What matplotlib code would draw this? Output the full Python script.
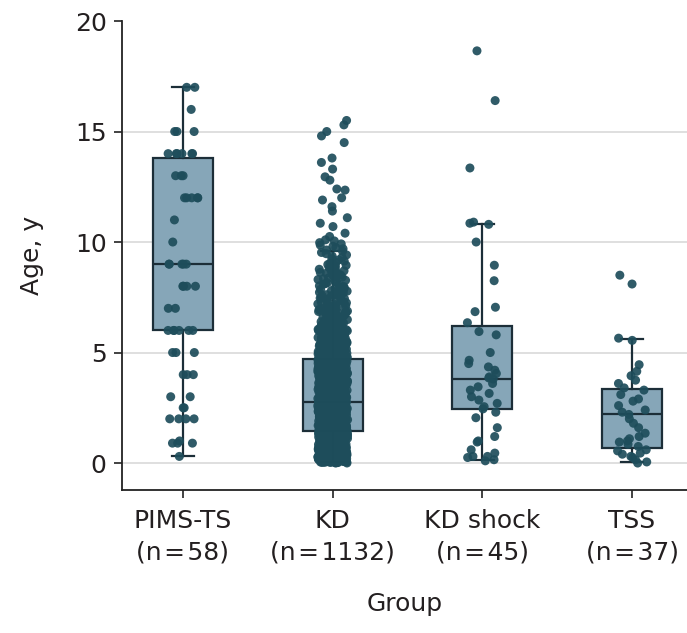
import numpy as np
import matplotlib
matplotlib.use("Agg")
import matplotlib.pyplot as plt

plt.rcParams['font.family'] = ['DejaVu Sans']

# categories and labels
groups = ['PIMS-TS', 'KD', 'KD shock', 'TSS']
group_n = [58, 1132, 45, 37]

# box statistics (years)
box_q1 = [6.0, 1.45, 2.45, 0.68]
box_med = [9.0, 2.76, 3.8, 2.22]
box_q3 = [13.8, 4.7, 6.2, 3.35]
box_lo = [0.3, 0.05, 0.15, 0.05]
box_hi = [17.0, 9.6, 10.8, 5.6]

# PIMS-TS ages (many repeats at whole years)
pims_ages = [17, 17, 16, 15, 15, 15, 14, 14, 14, 14, 14, 14,
             13, 13, 13, 12, 12, 12, 12, 12, 11, 10, 9, 9, 9, 9, 9,
             8, 8, 8, 8, 7, 7, 6, 6, 6, 6, 6, 6, 5, 5, 5,
             4, 4, 4, 3, 3, 2.5, 2.5, 2, 2, 2, 2, 1, 0.9, 0.9, 0.9, 0.3]

# KD: counts per 1-year band below 10 y, then single points above
kd_band_start = [0, 1, 2, 3, 4, 5, 6, 7, 8, 9]
kd_band_count = [212, 222, 205, 152, 112, 76, 52, 38, 28, 18]
kd_upper = [15.5, 15.3, 15.0, 14.8, 14.5, 13.8, 13.6, 13.3, 12.95, 12.8,
            12.4, 12.35, 12.0, 11.9, 11.6, 11.4, 11.1, 10.85, 10.7, 10.4,
            10.25, 10.1, 10.05]

# KD shock ages
kds_ages = [18.65, 16.4, 13.35, 10.9, 10.85, 10.8, 10.0, 8.95, 8.25, 7.05,
            6.85, 6.35, 5.95, 5.8, 5.0, 4.65, 4.35, 4.2, 4.05, 3.85, 3.8,
            3.6, 3.45, 3.3, 3.15, 3.0, 2.85, 2.7, 2.55, 2.45, 2.3, 2.05,
            1.6, 1.2, 1.0, 0.95, 0.6, 0.45, 0.3, 0.25, 0.15, 0.1, 0.3, 3.9, 4.5]

# TSS ages
tss_ages = [8.5, 8.1, 5.65, 5.55, 4.45, 4.15, 3.75, 3.6, 3.4, 3.3, 3.1,
            2.8, 2.6, 2.4, 2.3, 2.0, 1.8, 1.6, 1.35, 1.2, 1.0, 0.95, 0.75,
            0.6, 0.55, 0.45, 0.4, 0.3, 0.25, 0.15, 0.05, 0.0, 2.2, 2.9, 3.95, 1.1, 0.85]

kd_ages = []
for start, cnt in zip(kd_band_start, kd_band_count):
    kd_ages.extend(list(start + (np.arange(cnt) + 0.5) / cnt))
kd_ages.extend(kd_upper)

all_ages = [pims_ages, kd_ages, kds_ages, tss_ages]

point_col = '#1e4d5b'
box_col = '#86a6b8'
edge_col = '#1c2e38'
text_col = '#231f20'

fig = plt.figure(figsize=(6.87, 6.33), dpi=100)
ax = fig.add_axes([0.1776, 0.2259, 0.8224, 0.7409])

stats = []
for i, g in enumerate(groups):
    stats.append(dict(med=box_med[i], q1=box_q1[i], q3=box_q3[i],
                      whislo=box_lo[i], whishi=box_hi[i], fliers=[], label=g))

ax.bxp(stats, positions=range(len(groups)), widths=0.4, patch_artist=True,
       boxprops=dict(facecolor=box_col, edgecolor=edge_col, linewidth=1.6),
       medianprops=dict(color=edge_col, linewidth=1.6),
       whiskerprops=dict(color=edge_col, linewidth=1.6),
       capprops=dict(color=edge_col, linewidth=1.6),
       capwidths=0.15, zorder=2)

# jittered points (horizontal jitter only)
rng = np.random.default_rng(7)
for i, ages in enumerate(all_ages):
    ages = np.asarray(ages, dtype=float)
    jit = rng.uniform(-0.1, 0.1, len(ages))
    ax.scatter(i + jit, ages, s=42, color=point_col, edgecolors='none',
               alpha=0.92, zorder=3)

ax.set_xlim(-0.407, 3.367)
ax.set_ylim(-1.22, 20)
ax.set_yticks([0, 5, 10, 15, 20])
ax.set_xticks(range(len(groups)))
ax.set_xticklabels([f'{g}\n(n\u200a=\u200a{n})' for g, n in zip(groups, group_n)],
                   linespacing=1.35)

for y in [0, 5, 10, 15]:
    ax.axhline(y, color='#dcdcdc', linewidth=1.3, zorder=0)

for s in ['top', 'right']:
    ax.spines[s].set_visible(False)
for s in ['left', 'bottom']:
    ax.spines[s].set_color('#222222')
    ax.spines[s].set_linewidth(1.3)

ax.tick_params(axis='both', colors='#222222', labelcolor=text_col,
               labelsize=18, length=6, width=1.2)
ax.tick_params(axis='x', pad=8)
ax.tick_params(axis='y', pad=5)

ax.set_ylabel('Age, y', fontsize=18, color=text_col, labelpad=22)
ax.set_xlabel('Group', fontsize=18, color=text_col, labelpad=20)

fig.savefig('out.png', dpi=100)
